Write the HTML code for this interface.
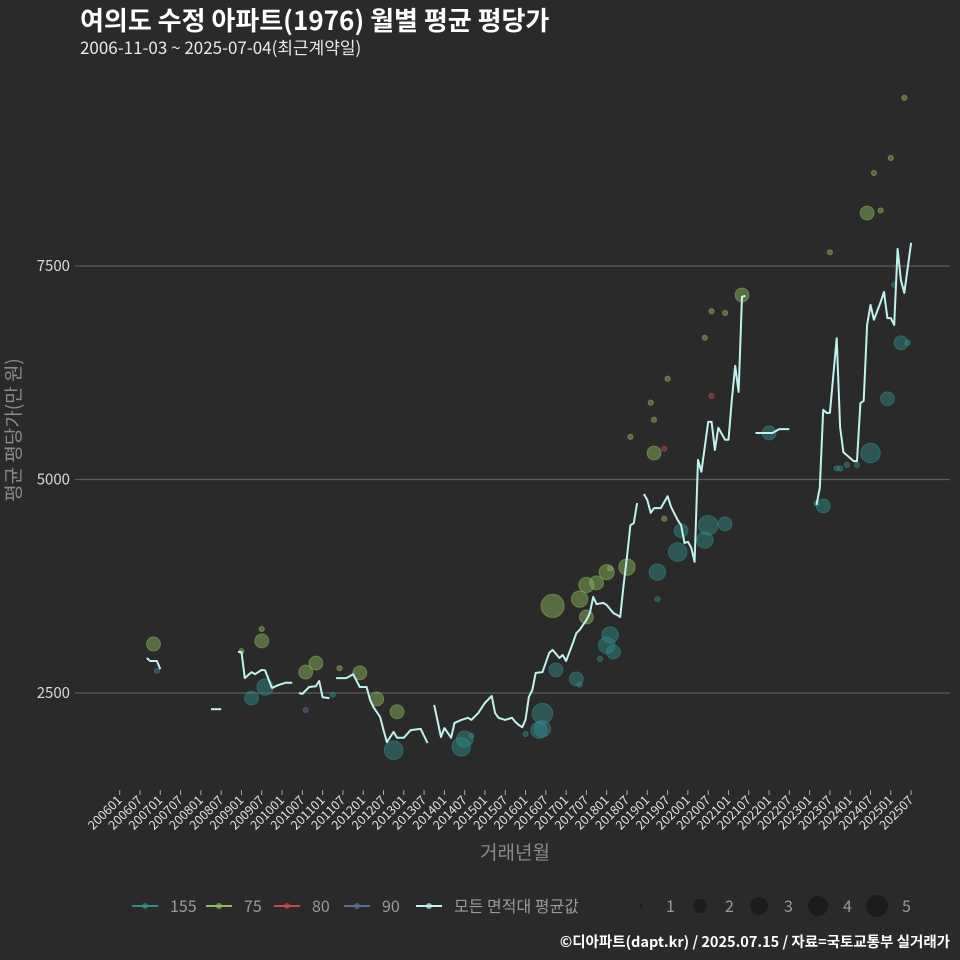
<!DOCTYPE html>
<html><head><meta charset="utf-8"><style>
body{margin:0;background:#2b2a2b;}
svg{display:block;font-family:"Noto Sans CJK KR","Liberation Sans",sans-serif;}
</style></head><body>
<svg id="chart" width="960" height="960" viewBox="0 0 960 960">
<rect width="960" height="960" fill="#2b2a2b"/>
<text x="80" y="30" font-size="26" font-weight="bold" fill="#ffffff">여의도 수정 아파트(1976) 월별 평균 평당가</text>
<text x="80" y="54" font-size="17" fill="#e8e8e8">2006-11-03 ~ 2025-07-04(최근계약일)</text>
<text transform="translate(20,430) rotate(-90)" text-anchor="middle" font-size="19" fill="#8a8a8a">평균 평당가(만 원)</text>
<text x="515" y="859" text-anchor="middle" font-size="19" fill="#8a8a8a">거래년월</text>
<g id="grid"></g>
<g id="bubbles"></g>
<g id="lines"></g>
<g id="xaxis"></g>
<g id="legend"></g>
<text x="950" y="947" text-anchor="end" font-size="14.5" font-weight="bold" fill="#ffffff">©디아파트(dapt.kr) / 2025.07.15 / 자료=국토교통부 실거래가</text>
</svg>
<script>
const yTicks=[2500,5000,7500];
const xTickLabels=[];
for(let y=2006;y<=2025;y++){xTickLabels.push(y+"01");xTickLabels.push(y+"07");}
// average line segments (null = gap)
const lineMonths=[200609,200610,200612,200701,null,200804,200805,200806,200807,null,
200812,200901,200902,200904,200905,200907,200908,200910,200912,201002,201004,null,
201006,201007,201009,201011,201012,201101,201103,null,
201105,201108,201110,201112,201202,201203,201204,201206,201207,201208,201210,201211,201301,201303,201306,201308,null,
201310,201312,201401,201403,201404,201406,201408,201409,201411,201412,201501,201503,201504,201505,201507,201509,201510,201511,201512,201601,201602,201603,201604,201606,201608,201609,201611,201612,201701,201703,201704,201705,201707,201708,201709,201710,201712,201801,201803,201804,201805,201806,201807,201808,201809,201810,null,
201812,201901,201902,201903,201905,201907,201908,201910,201911,201912,202001,202002,202003,202004,202005,202007,202008,202009,202010,202012,202101,202102,202103,202104,202105,202106,null,
202109,202202,202204,202207,null,
202303,202304,202305,202306,202307,202309,202310,202311,202401,202402,202403,202404,202405,202406,202407,202408,202410,202411,202412,202501,202502,202503,202504,202505,202507];
const lineValues=[2910,2875,2875,2780,null,2310,2310,2310,2310,null,
2980,2980,2675,2745,2720,2770,2765,2560,2595,2620,2620,null,
2500,2490,2570,2580,2640,2450,2440,null,
2675,2675,2720,2570,2570,2420,2335,2220,2065,1925,2045,1975,1975,2065,2080,1915,null,
2360,1985,2090,1975,2150,2185,2210,2185,2265,2325,2385,2465,2265,2210,2185,2210,2160,2125,2100,2185,2455,2535,2735,2745,2970,3005,2910,2945,2875,3085,3200,3240,3355,3435,3625,3540,3555,3530,3435,3415,3390,3765,4095,4465,4490,4725,null,
4830,4760,4610,4665,4665,4805,4680,4525,4465,4255,4270,4200,4035,5230,5090,5675,5675,5345,5605,5465,5465,5930,6330,6025,7140,7150,null,
5545,5545,5590,5590,null,
4700,4900,5815,5780,5780,6655,5615,5320,5250,5215,5215,5895,5920,6810,7045,6870,7080,7195,6890,6890,6810,7700,7335,7185,7770];
// bubbles: month, value, count, area
const bubMonths=[200611,200907,200907,200901,201008,201011,201106,201112,201205,201211,201609,201707,201705,201710,201801,201807,201707,201903,202406,202105,201802,201808,201903,201906,201902,
202505,202501,202408,202410,202307,202008,202006,202012,201907,
201906,202008,
201606,201605,201606,201610,201704,201802,201801,201803,201904,201910,201911,202006,202007,202012,201904,201210,200904,200908,201406,201407,202305,202407,202504,202412,202201,200612,202309,202303,202310,202312,202403,202506,202502,201409,201601,201705,201711,201008,201104];
const bubValues=[3074,3110,3250,2990,2745,2850,2790,2735,2430,2280,3520,3765,3600,3790,3915,3975,3390,5310,8120,7160,3960,5500,5700,4540,5900,
9470,8765,8590,8150,7660,6970,6660,6950,6180,
5360,5980,
2260,2065,2080,2770,2665,3180,3060,2980,3915,4150,4400,4290,4465,4480,3600,1830,2440,2570,1870,1960,4690,5310,6600,5945,5545,2760,5130,4720,5130,5170,5170,6600,7280,2000,2020,2600,2900,2300,2480];
const bubCounts=[5,5,1,1,5,5,1,5,5,5,14,6,7,5,6,7,5,5,5,5,1,1,1,1,1,
1,1,1,1,1,1,1,1,1,
1,1,
11,7,7,5,5,7,7,5,7,9,5,7,10,5,1,9,5,7,9,7,5,10,5,5,5,1,1,1,1,1,1,1,1,1,1,1,1,1,1];
const bubAreas=["75","75","75","75","75","75","75","75","75","75","75","75","75","75","75","75","75","75","75","75","75","75","75","75","75",
"75","75","75","75","75","75","75","75","75",
"80","80",
"155","155","155","155","155","155","155","155","155","155","155","155","155","155","155","155","155","155","155","155","155","155","155","155","155","90","155","155","155","155","155","155","155","155","155","155","155","90","155"];
const areaColors={"155":"#2f8f8c","75":"#8dbd5a","80":"#c9484a","90":"#5a6f98"};

function xScale(ym){const y=Math.floor(ym/100),m=ym%100;const idx=(y-2006)*12+(m-1);return 119.7+idx*3.382;}
function yScale(v){return 693-(v-2500)*0.0854;}
const NS="http://www.w3.org/2000/svg";
function mk(tag,attrs,parent){const e=document.createElementNS(NS,tag);for(const k in attrs)e.setAttribute(k,attrs[k]);parent.appendChild(e);return e;}

const grid=document.getElementById('grid');
yTicks.forEach(v=>{
  const l=mk('line',{x1:75,x2:950,y1:yScale(v),y2:yScale(v),stroke:'#5e5e5e','stroke-width':1.3},grid);
  
  
  const t=mk('text',{x:70,y:yScale(v)+5,'text-anchor':'end','font-size':15,fill:'#d8d8d8'},grid);
  t.textContent=v;
  
  
});

const xa=document.getElementById('xaxis');
xTickLabels.forEach(lbl=>{
  const x=xScale(parseInt(lbl));
  const tk=mk('line',{x1:x,x2:x,y1:790,y2:795,stroke:'#aaaaaa','stroke-width':1},xa);
  
  
  const t=mk('text',{x:x+3,y:801,'text-anchor':'end','font-size':12.5,fill:'#e0e0e0',transform:`rotate(-45 ${x+3} 801)`},xa);
  t.textContent=lbl;
  
  
});

const bg=document.getElementById('bubbles');
bubMonths.forEach((m,i)=>{
  const r=bubCounts[i]<=1?2.6:3.1*Math.sqrt(bubCounts[i]);
  const c=mk('circle',{cx:xScale(m),cy:yScale(bubValues[i]),r:r,fill:areaColors[bubAreas[i]],'fill-opacity':0.45,stroke:areaColors[bubAreas[i]],'stroke-opacity':0.5},bg);
  
  
});

const lg=document.getElementById('lines');
let seg=[];
function flush(){
  if(seg.length>1){
    const p=mk('polyline',{points:seg.join(' '),fill:'none',stroke:'#bff3ee','stroke-width':2,'stroke-linejoin':'round'},lg);
    
    
  }
  seg=[];
}
lineMonths.forEach((m,i)=>{
  if(m===null){flush();return;}
  seg.push(xScale(m).toFixed(1)+','+yScale(lineValues[i]).toFixed(1));
});
flush();

const leg=document.getElementById('legend');
const legItems=[["155","#2f8f8c",132],["75","#8dbd5a",206],["80","#c9484a",274],["90","#5a6f98",344],["모든 면적대 평균값","#bff3ee",416]];
legItems.forEach(it=>{
  const l=mk('line',{x1:it[2],x2:it[2]+26,y1:906,y2:906,stroke:it[1],'stroke-width':2},leg);
  
  
  const c=mk('circle',{cx:it[2]+13,cy:906,r:3,fill:it[1],'fill-opacity':0.7},leg);
  
  
  const t=mk('text',{x:it[2]+38,y:912,'font-size':16,fill:'#9a9a9a'},leg);
  t.textContent=it[0];
  
  
});
const sizes=[[1,641,1.8],[2,700,7],[3,759,9],[4,818,10],[5,877,11]];
sizes.forEach(s=>{
  const c=mk('circle',{cx:s[1],cy:906,r:s[2],fill:'#1c1c1c'},leg);
  
  
  const t=mk('text',{x:s[1]+25,y:912,'font-size':16,fill:'#9a9a9a'},leg);
  t.textContent=s[0];
  
  
});
</script>
</body></html>
